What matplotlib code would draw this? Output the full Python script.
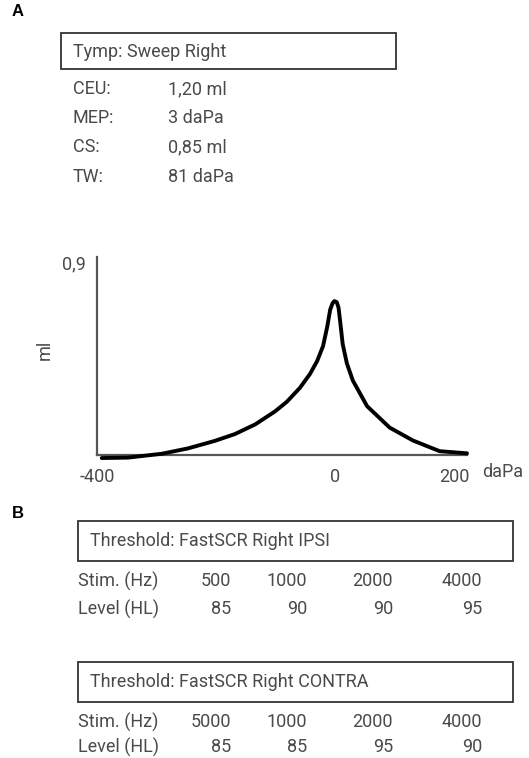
import matplotlib.pyplot as plt
from matplotlib.patches import Rectangle

W, H = 529, 758

# tympanogram summary
tymp_title = "Tymp: Sweep Right"
tymp_keys = ["CEU:", "MEP:", "CS:", "TW:"]
tymp_vals = ["1,20 ml", "3 daPa", "0,85 ml", "81 daPa"]

# tympanogram curve
pressure = [-392, -348, -291, -247, -202, -168, -134, -101, -81, -59, -42, -30, -20,
            -13, -8, -4, -1, 3, 6, 9, 13, 20, 30, 54, 92, 131, 176, 222]
volume = [-0.012, -0.01, 0.008, 0.033, 0.068, 0.10, 0.145, 0.205, 0.25, 0.315, 0.38, 0.44, 0.51,
          0.60, 0.68, 0.71, 0.72, 0.715, 0.69, 0.62, 0.52, 0.43, 0.35, 0.23, 0.13, 0.07, 0.02, 0.01]

# reflex thresholds
ipsi_title = "Threshold: FastSCR Right IPSI"
ipsi_stim = ["500", "1000", "2000", "4000"]
ipsi_level = ["85", "90", "90", "95"]
contra_title = "Threshold: FastSCR Right CONTRA"
contra_stim = ["5000", "1000", "2000", "4000"]
contra_level = ["85", "85", "95", "90"]

plt.rcParams["font.family"] = ["Roboto", "DejaVu Sans"]
TXT = "#4a4a4a"
FS = 13

fig = plt.figure(figsize=(W / 100, H / 100), dpi=100)


def fx(px):
    return px / W


def fy(py):
    return 1 - py / H


def label(px, py, s, ha="left", **kw):
    kw.setdefault("fontsize", FS)
    kw.setdefault("color", TXT)
    fig.text(fx(px), fy(py), s, ha=ha, va="center", **kw)


def box(x0, y0, x1, y1):
    fig.add_artist(Rectangle((fx(x0), fy(y1)), fx(x1) - fx(x0), fy(y0) - fy(y1),
                             transform=fig.transFigure, fill=False,
                             edgecolor="#333333", linewidth=1.3))


# panel A
fig.text(fx(12), fy(11), "A", fontsize=12, fontweight="bold", family="Liberation Sans",
         ha="left", va="center", color="black")
box(61, 33, 396, 69)
label(73, 52, tymp_title)
for i, (k, v) in enumerate(zip(tymp_keys, tymp_vals)):
    label(73, 89 + i * 29.2, k)
    label(168, 89 + i * 29.2, v)

# tympanogram axes: x -400..222 -> px 97..467, y -0.03..0.928 -> px 461.9..256.5
ax = fig.add_axes([fx(97), fy(461.9), fx(467) - fx(97), fy(256.5) - fy(461.9)])
ax.set_xlim(-400, 222)
ax.set_ylim(-0.03, 0.928)
ax.plot(pressure, volume, color="black", lw=2.8, solid_capstyle="round",
        solid_joinstyle="round", clip_on=False, zorder=3)
for s in ["top", "right"]:
    ax.spines[s].set_visible(False)
ax.spines["bottom"].set_position(("data", 0))
ax.spines["left"].set_position(("data", -400))
ax.spines["left"].set_bounds(0, 0.928)
ax.spines["bottom"].set_bounds(-400, 222)
for s in ["left", "bottom"]:
    ax.spines[s].set_color("#555555")
    ax.spines[s].set_linewidth(1.6)
ax.patch.set_alpha(0)
ax.set_xticks([-400, 0, 200], ["-400", "0", "200"])
ax.set_yticks([0.9], ["0,9"])
ax.tick_params(length=0, labelsize=FS, labelcolor=TXT, pad=8)
ax.tick_params(axis="x", pad=9)
label(482, 472, "daPa")
fig.text(fx(45), fy(350), "ml", rotation=90, ha="center", va="center",
         fontsize=FS, color=TXT)

# panel B
fig.text(fx(12), fy(514), "B", fontsize=12, fontweight="bold", family="Liberation Sans",
         ha="left", va="center", color="black")
col_right = [231, 307, 393, 482]


def threshold_block(top, title, stim, level, level_dy=88):
    box(78, top, 513, top + 40)
    label(90, top + 20, title)
    label(78, top + 60, "Stim. (Hz)")
    label(78, top + level_dy, "Level (HL)")
    for x, s, l in zip(col_right, stim, level):
        label(x, top + 60, s, ha="right")
        label(x, top + level_dy, l, ha="right")


threshold_block(521, ipsi_title, ipsi_stim, ipsi_level)
threshold_block(662, contra_title, contra_stim, contra_level, level_dy=85)

fig.savefig("out.png", dpi=100)
